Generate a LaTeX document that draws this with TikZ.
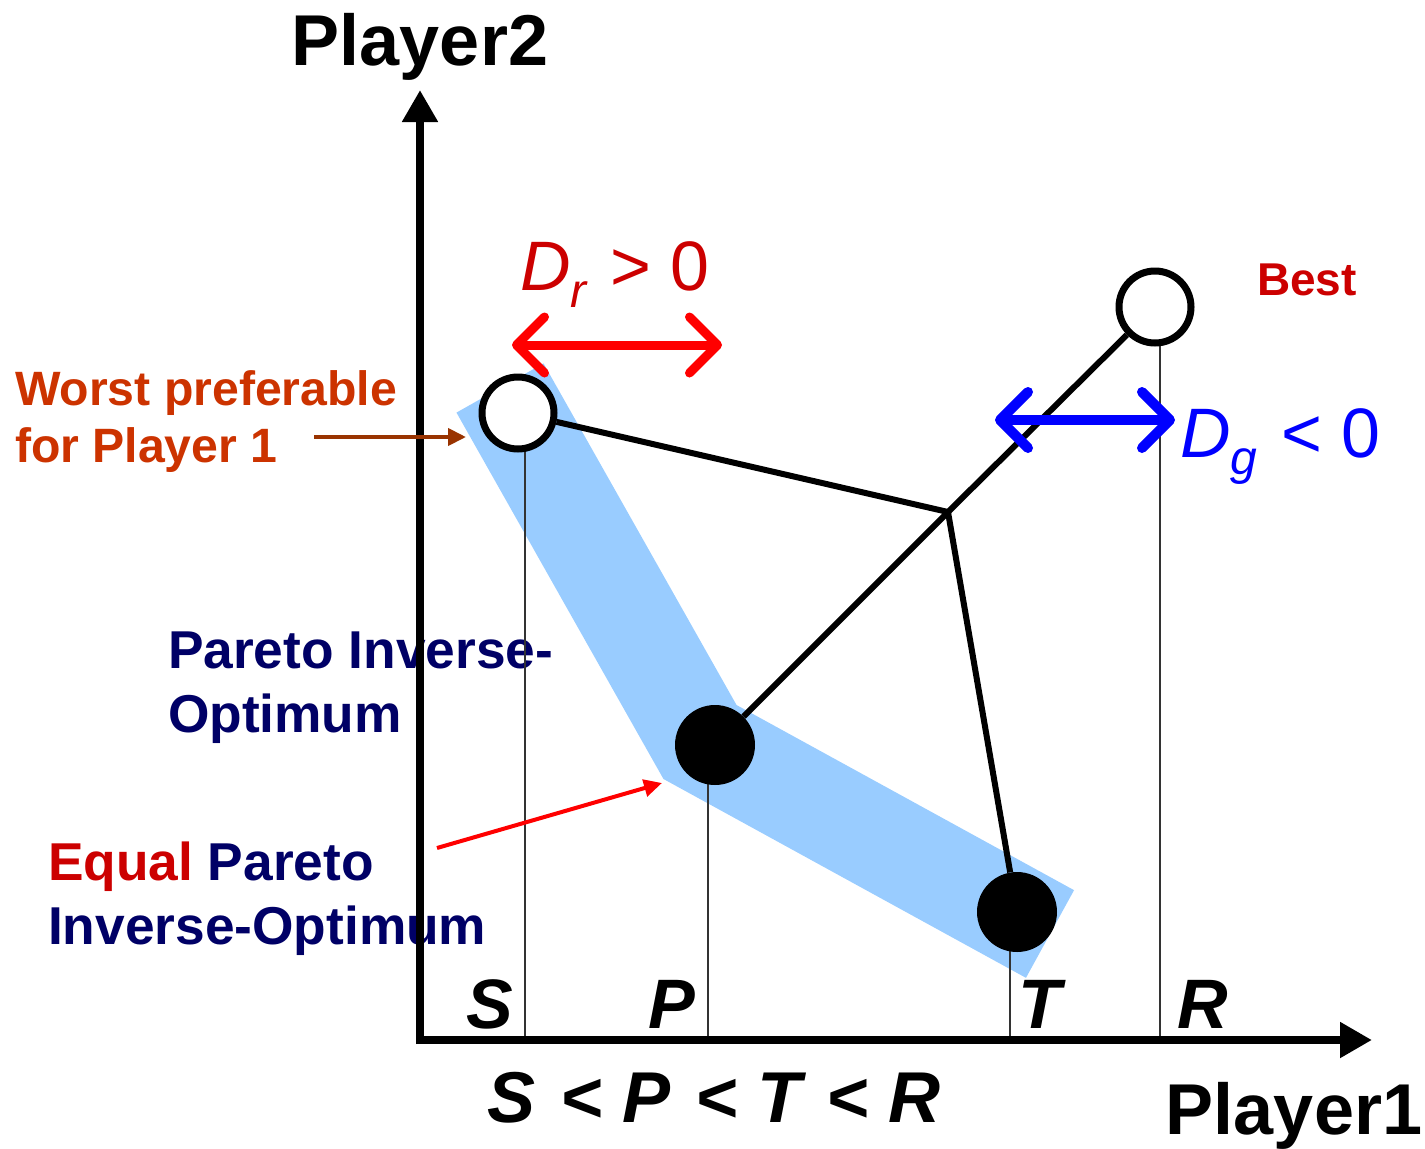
\documentclass[tikz,border=0pt]{standalone}
\usepackage{fontspec}
\setmainfont{Liberation Sans}
\usetikzlibrary{arrows.meta}
\definecolor{bandblue}{HTML}{99CCFF}
\definecolor{darkred}{HTML}{CC0000}
\definecolor{orangered}{HTML}{CC3300}
\definecolor{navy}{HTML}{000066}
\definecolor{brownarrow}{HTML}{993300}
\definecolor{purered}{HTML}{FF0000}
\definecolor{pureblue}{HTML}{0000FF}
\definecolor{guide}{HTML}{333333}
\tikzset{
  txt/.style={inner sep=0pt, outer sep=0pt, anchor=base west},
  axis/.style={line width=8pt, -{Triangle[length=32pt,width=34pt]}},
  guideline/.style={guide, line width=1.8pt},
  link/.style={line width=6pt},
  opencirc/.style={circle, draw, fill=white, line width=7pt, minimum size=72pt, inner sep=0pt},
  fullcirc/.style={circle, fill=black, minimum size=80pt, inner sep=0pt},
  barb/.style={line width=9pt, line cap=round, {Straight Barb[length=28pt,width=56pt,round]}-{Straight Barb[length=28pt,width=56pt,round]}},
  pointer/.style={line width=4pt, -{Triangle[length=18pt,width=17pt]}},
  bigfont/.style={font=\fontsize{70}{84}\selectfont},
  midfont/.style={font=\bfseries\fontsize{53.3}{64}\selectfont},
}
\begin{document}
\begin{tikzpicture}[x=1pt,y=-1pt]
\useasboundingbox (0,0) rectangle (1425,1149);

% blue band
\draw[bandblue, line width=100pt, line join=miter] (500,388) -- (700,742) -- (1050,934);

% texts (under lines)
\node[txt, text=orangered, font=\bfseries\fontsize{48.2}{58}\selectfont] (w1) at (15,405) {Worst preferable};
\node[txt, text=orangered, font=\bfseries\fontsize{48.2}{58}\selectfont] (w2) at (15,462) {for Player 1};
\node[txt, midfont, text=navy] (p1) at (168,668) {Pareto Inverse-};
\node[txt, midfont, text=navy] (p2) at (168,732) {Optimum};
\node[txt, midfont] (e1) at (48,880) {\textcolor{darkred}{Equal} \textcolor{navy}{Pareto}};
\node[txt, midfont, text=navy] (e2) at (48,944) {Inverse-Optimum};
\node[txt, text=darkred, font=\bfseries\fontsize{46}{55}\selectfont] (best) at (1257,295) {Best};

% coordinates
\coordinate (O) at (420,1040);
\coordinate (J) at (948,512);
\coordinate (gS) at (525,413);  \coordinate (bS) at (525,1040);
\coordinate (gP) at (708,745);  \coordinate (bP) at (708,1040);
\coordinate (gT) at (1010,912); \coordinate (bT) at (1010,1040);
\coordinate (gR) at (1160,307); \coordinate (bR) at (1160,1040);

% guide lines
\draw[guideline] (gS) -- (bS);
\draw[guideline] (gP) -- (bP);
\draw[guideline] (gT) -- (bT);
\draw[guideline] (gR) -- (bR);

% axes
\coordinate (ytip) at (420,90);
\coordinate (xtip) at (1372,1040);
\coordinate (ystart) at (420,1044);
\coordinate (xstart) at (416,1040);
\draw[axis] (ystart) -- (ytip);
\draw[axis] (xstart) -- (xtip);

% circles
\node[opencirc] (A) at (518,413) {};
\node[opencirc] (B) at (1155,307) {};
\node[fullcirc] (P) at (715,745) {};
\node[fullcirc] (T) at (1017,912) {};

% links
\draw[link] (A) -- (J);
\draw[link] (J) -- (B);
\draw[link] (J) -- (P);
\draw[link] (J) -- (T);

% double arrows
\coordinate (dr1) at (512,345); \coordinate (dr2) at (722,345);
\draw[barb, purered] (dr1) -- (dr2);
\coordinate (dg1) at (995,420); \coordinate (dg2) at (1175,420);
\draw[barb, pureblue, line width=10pt] (dg1) -- (dg2);

% labels of arrows
\node[txt, text=darkred, bigfont] (dr) at (520,290) {\textit{D}\raisebox{-17pt}{\fontsize{48}{56}\selectfont\textit{r}}\hspace{3pt} > 0};
\node[txt, text=pureblue, bigfont] (dg) at (1180,457) {\textit{D}\raisebox{-17pt}{\fontsize{48}{56}\selectfont\textit{g}}\hspace{5pt} < 0};

% pointer arrows
\coordinate (w0) at (314,437); \coordinate (w9) at (466,437);
\draw[pointer, brownarrow] (w0) -- (w9);
\coordinate (e0) at (437,848); \coordinate (e9) at (662,783);
\draw[pointer, purered] (e0) -- (e9);

% axis titles
\node[inner sep=0pt, anchor=base, font=\bfseries\fontsize{72}{86}\selectfont] (y2) at (420,65) {Player2};
\node[inner sep=0pt, anchor=base, font=\bfseries\fontsize{72}{86}\selectfont] (x1) at (1294,1134) {Player1};

% tick labels
\node[inner sep=0pt, anchor=base, font=\bfseries\itshape\fontsize{70}{84}\selectfont] (lS) at (490,1028) {S};
\node[inner sep=0pt, anchor=base, font=\bfseries\itshape\fontsize{70}{84}\selectfont] (lP) at (672,1028) {P};
\node[inner sep=0pt, anchor=base, font=\bfseries\itshape\fontsize{70}{84}\selectfont] (lT) at (1040,1028) {T};
\node[inner sep=0pt, anchor=base, font=\bfseries\itshape\fontsize{70}{84}\selectfont] (lR) at (1203,1028) {R};
\node[inner sep=0pt, anchor=base, font=\bfseries\itshape\fontsize{72}{86}\selectfont] (ineq) at (714,1122) {S\hspace{5pt} < P\hspace{5pt} < T\hspace{5pt} < R};
\end{tikzpicture}
\end{document}
